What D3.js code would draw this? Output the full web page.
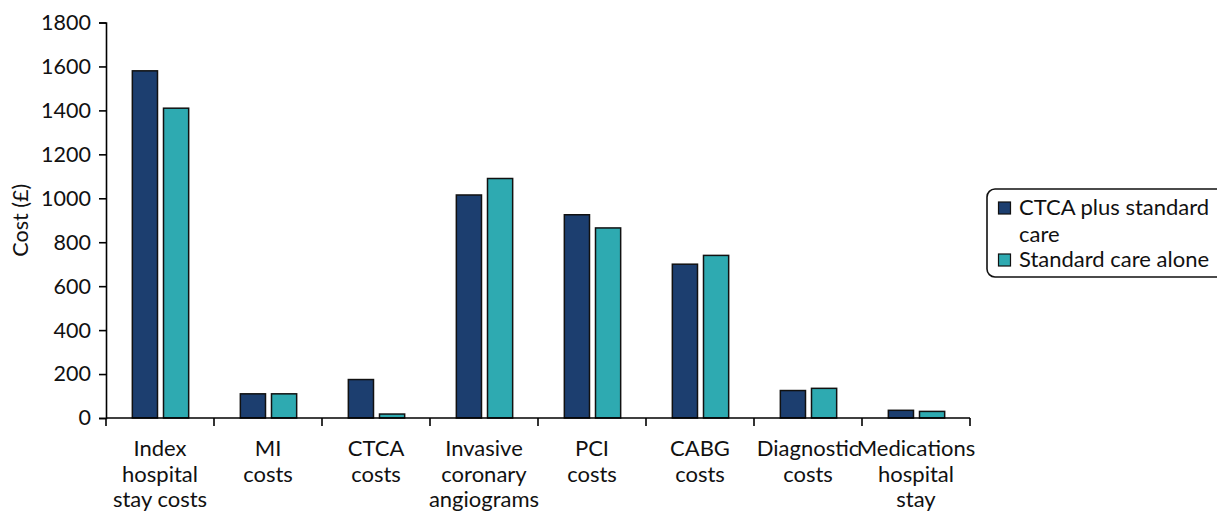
<!DOCTYPE html>
<html>
<head>
<meta charset="utf-8">
<script src="https://cdn.jsdelivr.net/npm/d3@7"></script>
<style>
  html, body { margin: 0; padding: 0; background: #fff; }
  svg { display: block; font-family: Lato, "Open Sans", sans-serif; }
</style>
</head>
<body>
<svg id="chart" width="1217" height="513"></svg>
<script>
// Cost categories (multi-line labels)
const categories = [
  ["Index", "hospital", "stay costs"],
  ["MI", "costs"],
  ["CTCA", "costs"],
  ["Invasive", "coronary", "angiograms"],
  ["PCI", "costs"],
  ["CABG", "costs"],
  ["Diagnostic", "costs"],
  ["Medications", "hospital", "stay"]
];
const seriesNames = ["CTCA plus standard care", "Standard care alone"];
const legendLines = [["CTCA plus standard", "care"], ["Standard care alone"]];
const ctcaPlusStandard = [1580, 110, 175, 1015, 925, 700, 125, 35];
const standardAlone    = [1410, 110, 18, 1090, 865, 740, 135, 30];
const yTicks = [0, 200, 400, 600, 800, 1000, 1200, 1400, 1600, 1800];

const colors = ["#1c3e6f", "#2eaab1"];
const svg = d3.select("#chart");
const margin = { left: 106, right: 247, top: 22.5, bottom: 95 };
const W = 1217, H = 513;
const fs = 22;

const x = d3.scaleBand()
  .domain(d3.range(categories.length))
  .range([margin.left, W - margin.right])
  .paddingInner(0).paddingOuter(0);
const y = d3.scaleLinear().domain([0, 1800]).range([H - margin.bottom, margin.top]);

const series = [ctcaPlusStandard, standardAlone];
const bw = x.bandwidth();
const barW = bw * 0.233;
const gap = 6;

// Bars
const g = svg.append("g");
series.forEach((vals, s) => {
  g.selectAll(null).data(vals).enter().append("rect")
    .attr("x", (d, i) => x(i) + bw / 2 - barW - gap / 2 + s * (barW + gap) + 0.5)
    .attr("y", d => y(d))
    .attr("width", barW)
    .attr("height", d => y(0) - y(d))
    .attr("fill", colors[s])
    .attr("stroke", "#111")
    .attr("stroke-width", 1.5);
});

// Y axis
const yAxis = svg.append("g")
  .attr("transform", `translate(${margin.left},0)`)
  .call(d3.axisLeft(y).tickValues(yTicks).tickSize(7).tickPadding(8).tickFormat(d3.format("d")));
yAxis.select(".domain").attr("stroke", "#000").attr("stroke-width", 1.6);
yAxis.selectAll(".tick line").attr("stroke", "#000").attr("stroke-width", 1.6);
yAxis.selectAll(".tick text").attr("font-size", 21.5).attr("fill", "#111")
  .attr("font-family", "Lato, sans-serif");

// X axis: baseline with ticks at category boundaries
const boundaries = d3.range(categories.length + 1).map(i => margin.left + i * bw);
const xAxis = svg.append("g");
xAxis.append("line")
  .attr("x1", margin.left).attr("x2", W - margin.right)
  .attr("y1", y(0)).attr("y2", y(0))
  .attr("stroke", "#000").attr("stroke-width", 1.6);
xAxis.selectAll(".xt").data(boundaries).enter().append("line")
  .attr("x1", d => d).attr("x2", d => d)
  .attr("y1", y(0)).attr("y2", y(0) + 8)
  .attr("stroke", "#000").attr("stroke-width", 1.6);

// Category labels
categories.forEach((lines, i) => {
  const cx = x(i) + bw / 2;
  const t = xAxis.append("text")
    .attr("x", cx)
    .attr("y", y(0) + 38)
    .attr("text-anchor", "middle")
    .attr("font-size", fs)
    .attr("fill", "#111");
  lines.forEach((ln, k) => {
    t.append("tspan").attr("x", cx).attr("dy", k === 0 ? 0 : 25.7).text(ln);
  });
});

// Y axis title
svg.append("text")
  .attr("transform", `translate(28,${(y(0) + y(1800)) / 2}) rotate(-90)`)
  .attr("text-anchor", "middle")
  .attr("font-size", 21.5)
  .attr("fill", "#111")
  .text("Cost (£)");

// Legend
const lg = svg.append("g");
lg.append("rect")
  .attr("x", 987).attr("y", 189)
  .attr("width", 260).attr("height", 88)
  .attr("rx", 8).attr("ry", 8)
  .attr("fill", "#fff").attr("stroke", "#111").attr("stroke-width", 1.6);
const legendBaselines = [215, 267];
legendLines.forEach((lines, s) => {
  const by = legendBaselines[s];
  lg.append("rect")
    .attr("x", 998.5).attr("y", by - 13)
    .attr("width", 12).attr("height", 12)
    .attr("fill", colors[s]).attr("stroke", "#111").attr("stroke-width", 1.2);
  const t = lg.append("text")
    .attr("x", 1019).attr("y", by)
    .attr("font-size", fs).attr("fill", "#111");
  lines.forEach((ln, k) => {
    t.append("tspan").attr("x", 1019).attr("dy", k === 0 ? 0 : 26.5).text(ln);
  });
});
</script>
</body>
</html>
